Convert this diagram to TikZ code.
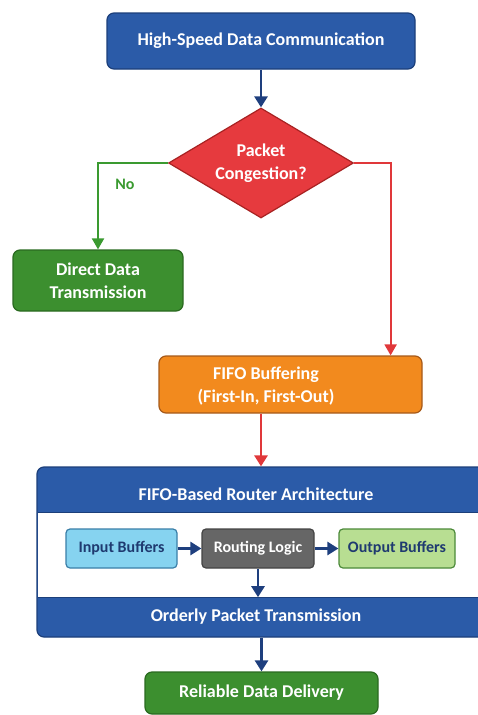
\documentclass[tikz,border=0pt]{standalone}
\usepackage{fontspec}
\setmainfont{Carlito}
\usetikzlibrary{shapes.geometric,arrows.meta,calc}
\definecolor{bfill}{HTML}{2B5BA8}
\definecolor{bdraw}{HTML}{1C3F7A}
\definecolor{rfill}{HTML}{E63A3E}
\definecolor{rdraw}{HTML}{A82222}
\definecolor{gfill}{HTML}{3C8F2F}
\definecolor{gdraw}{HTML}{2A6A20}
\definecolor{ofill}{HTML}{F28A1E}
\definecolor{odraw}{HTML}{A65A1A}
\definecolor{lbfill}{HTML}{86D3F0}
\definecolor{lbdraw}{HTML}{3A7FA8}
\definecolor{gyfill}{HTML}{666666}
\definecolor{gydraw}{HTML}{444444}
\definecolor{lgfill}{HTML}{B8DE92}
\definecolor{lgdraw}{HTML}{4C8A3A}
\definecolor{navy}{HTML}{1F3A70}
\definecolor{arnavy}{HTML}{1E3F7E}
\definecolor{argreen}{HTML}{3A9A30}
\definecolor{arred}{HTML}{E0383A}
\tikzset{
  box/.style={rectangle, rounded corners=7pt, line width=1.2pt, text=white, font=\bfseries\fontsize{18}{23}\selectfont, align=center, inner sep=0pt},
  inbox/.style={rectangle, rounded corners=4pt, line width=1.2pt, font=\bfseries\fontsize{16}{18}\selectfont, align=center, inner sep=0pt, minimum height=39pt},
  arr/.style={line width=2.6pt, -{Triangle[length=11pt,width=13pt]}},
  arrthin/.style={line width=2pt, -{Triangle[length=11pt,width=12pt]}},
  lbl/.style={text=white, font=\bfseries\fontsize{18}{23}\selectfont, inner sep=0pt, align=center}
}
\begin{document}
\begin{tikzpicture}[x=1pt,y=-1pt]
\useasboundingbox (0,0) rectangle (478,715);
% top
\node[box, fill=bfill, draw=bdraw, minimum width=308pt, minimum height=56pt] (top) at (261,41) {High-Speed Data Communication};
% diamond
\node[diamond, aspect=1.68, fill=rfill, draw=rdraw, line width=1.2pt, minimum width=185pt, minimum height=110pt, inner sep=0pt, text=white, font=\bfseries\fontsize{18}{23}\selectfont, align=center] (dec) at (261,163) {Packet\\Congestion?};
% direct
\node[box, fill=gfill, draw=gdraw, minimum width=170pt, minimum height=61pt] (direct) at (98,280.5) {Direct Data\\Transmission};
% fifo
\node[box, fill=ofill, draw=odraw, minimum width=263pt, minimum height=57pt] (fifo) at (290.5,384.5) {};
\node[lbl] (fifotext) at (266,386) {FIFO Buffering\\(First-In, First-Out)};
% architecture
\node[box, fill=bfill, draw=bdraw, minimum width=453pt, minimum height=170pt] (arch) at (263.5,552) {};
\node[rectangle, fill=white, minimum width=451pt, minimum height=84pt, inner sep=0pt] (mid) at (263.5,555) {};
\draw[bdraw, line width=0.8pt] (mid.north west) -- (mid.north east) (mid.south west) -- (mid.south east);
\node[lbl] (archtitle) at (256,494) {FIFO-Based Router Architecture};
\node[lbl] (orderly) at (256,617) {Orderly Packet Transmission};
\node[inbox, fill=lbfill, draw=lbdraw, text=navy, minimum width=111pt] (inb) at (121.5,548.5) {Input Buffers};
\node[inbox, fill=gyfill, draw=gydraw, text=white, minimum width=112pt] (rout) at (258,548.5) {Routing Logic};
\node[inbox, fill=lgfill, draw=lgdraw, text=navy, minimum width=116pt] (outb) at (397,548.5) {Output Buffers};
% delivery
\node[box, fill=gfill, draw=gdraw, minimum width=233pt, minimum height=42pt] (deliver) at (261.5,693) {Reliable Data Delivery};
% connectors
\draw[arr, arnavy] (top) -- (dec);
\draw[arrthin, argreen] (dec.west) -| (direct.north);
\node[text=argreen, font=\bfseries\fontsize{16}{18}\selectfont, inner sep=0pt] (no) at (125,184) {No};
\draw[arrthin, arred] (dec.east) -| ([xshift=-32pt]fifo.north east);
\coordinate (fo) at ([xshift=-29.5pt]fifo.south);
\draw[arr, arred] (fo) -- (fo |- arch.north);
\draw[arr, arnavy] (inb) -- (rout);
\draw[arr, arnavy] (rout) -- (outb);
\draw[arr, arnavy] (rout.south) -- (rout.south |- mid.south);
\draw[arr, arnavy] (deliver.north |- arch.south) -- (deliver.north);
\end{tikzpicture}
\end{document}
